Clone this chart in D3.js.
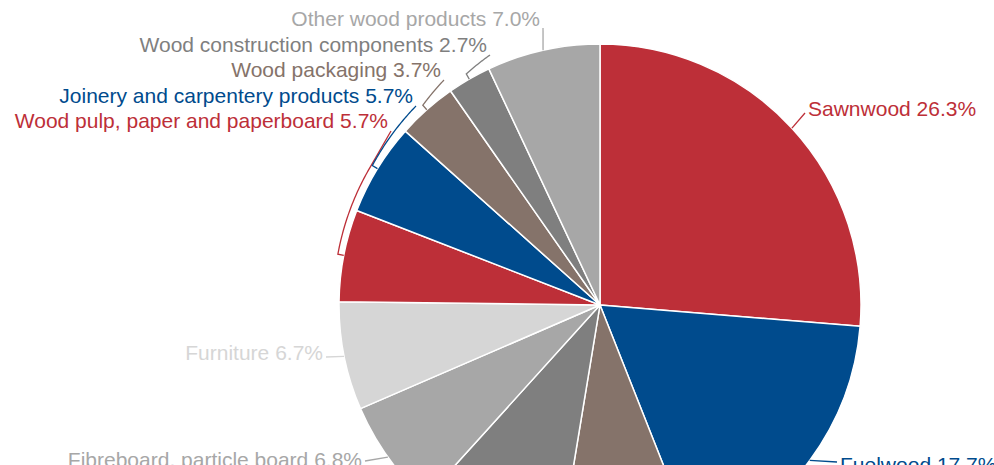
<!DOCTYPE html>
<html>
<head>
<meta charset="utf-8">
<script src="https://cdn.jsdelivr.net/npm/d3@7"></script>
<style>
  html, body { margin: 0; padding: 0; background: #fff; }
  svg { display: block; }
  text { font-family: "Liberation Sans", Arial, sans-serif; font-size: 21px; }
</style>
</head>
<body>
<svg id="chart" width="994" height="465"></svg>
<script>
// Share of wood products (%), clockwise from 12 o'clock
const categories = [
  "Sawnwood",
  "Fuelwood",
  "Veneer sheets and plywood",
  "Wood chips and particles",
  "Fibreboard, particle board",
  "Furniture",
  "Wood pulp, paper and paperboard",
  "Joinery and carpentery products",
  "Wood packaging",
  "Wood construction components",
  "Other wood products"
];
const shares = [26.3, 17.7, 8.6, 9.1, 6.8, 6.7, 5.7, 5.7, 3.7, 2.7, 7.0];
const palette = ["#bd2f38", "#004b8d", "#85736a", "#7f7f7f", "#a7a7a7", "#d6d6d6"];

// Label placement: text anchor (x, baseline y), alignment and connector style
const labelLayout = [
  { x: 808, y: 116, align: "start", link: "line", ay: -3 },
  { x: 840, y: 472, align: "start", link: "line", ay: -10 },
  null,
  null,
  { x: 362, y: 467, align: "end", link: "line", ay: -6 },
  { x: 323, y: 360, align: "end", link: "line", ay: -3 },
  { x: 388, y: 128, align: "end", link: "bracket", ay: 3 },
  { x: 413, y: 103, align: "end", link: "bracket", ay: 3 },
  { x: 441, y: 77, align: "end", link: "bracket", ay: 3 },
  { x: 487, y: 52, align: "end", link: "bracket", ay: 3 },
  { x: 540, y: 26, align: "end", link: "line", ay: 2 }
];

const cx = 600, cy = 305, R = 261;
const svg = d3.select("#chart");
const g = svg.append("g").attr("transform", `translate(${cx},${cy})`);

const color = d3.scaleOrdinal().domain(d3.range(shares.length)).range(palette);
const pie = d3.pie().sort(null).value(d => d);
const arcs = pie(shares);
const arc = d3.arc().innerRadius(0).outerRadius(R);

g.selectAll("path.slice")
  .data(arcs)
  .join("path")
  .attr("class", "slice")
  .attr("d", arc)
  .attr("fill", (d, i) => color(i))
  .attr("stroke", "#fff")
  .attr("stroke-width", 1.5)
  .attr("stroke-linejoin", "round");

// polar helpers (angle clockwise from top, relative to the pie centre)
const pt = (a, r) => [r * Math.sin(a), -r * Math.cos(a)];
const angleOf = (x, y) => {
  let a = Math.atan2(x, -y);
  return a < 0 ? a + 2 * Math.PI : a;
};

const labels = svg.append("g");
const links = g.append("g").attr("fill", "none").attr("stroke-width", 1.3);
const lineGen = d3.line();

// bracket start angles (slice mid-angles) for capping neighbouring brackets
const bracketStarts = arcs.map((d, i) =>
  labelLayout[i] && labelLayout[i].link === "bracket" ? (d.startAngle + d.endAngle) / 2 : null);

arcs.forEach((d, i) => {
  const L = labelLayout[i];
  if (!L) return;
  const c = color(i);
  const mid = (d.startAngle + d.endAngle) / 2;
  const side = L.align === "end" ? 1 : -1;
  const ax = L.x + side * 3 - cx, ay = L.y + L.ay - cy;

  if (L.link === "line") {
    const e = pt(mid, R);
    links.append("path").attr("stroke", c)
      .attr("d", lineGen([e, [ax, ay]]));
  } else {
    const a0 = mid;
    let a1 = angleOf(ax, ay);
    const r0 = R + 6;
    let r1 = Math.hypot(ax, ay);
    // keep clear of the next bracket
    const next = bracketStarts.slice(i + 1).find(v => v != null);
    if (next != null && a1 > next - 0.007) { a1 = next - 0.007; r1 = r0 + 1; }
    const n = 40;
    const pts = d3.range(n + 1).map(k => {
      const t = k / n;
      return pt(a0 + (a1 - a0) * t, r0 + (r1 - r0) * t);
    });
    const tick = pt(a0, r0 - 6);
    links.append("path").attr("stroke", c)
      .attr("d", lineGen([tick].concat(pts, [[ax, ay]])));
  }

  labels.append("text")
    .attr("x", L.x)
    .attr("y", L.y)
    .attr("text-anchor", L.align)
    .attr("fill", c)
    .text(`${categories[i]} ${shares[i].toFixed(1)}%`);
});
</script>
</body>
</html>
